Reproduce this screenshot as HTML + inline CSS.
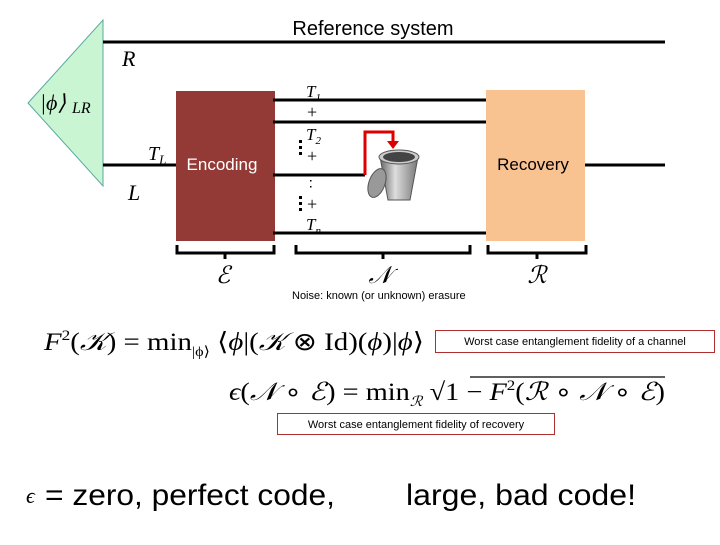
<!DOCTYPE html>
<html><head><style>
body{margin:0;background:#fff}
svg text{font-family:"Liberation Serif",serif}
</style></head><body>
<svg width="720" height="540" viewBox="0 0 720 540" xmlns="http://www.w3.org/2000/svg">
<text x="373" y="35" font-size="20" text-anchor="middle" style="font-family:'Liberation Sans',sans-serif">Reference system</text>
<polygon points="103,20 103,186 28,103" fill="#c9f5d3" stroke="#5aa9a0" stroke-width="1"/>
<text x="40" y="110" font-size="22" font-style="italic">|ϕ⟩</text>
<text x="72" y="113" font-size="16" font-style="italic">LR</text>
<line x1="103" y1="42" x2="665" y2="42" stroke="#000" stroke-width="3"/>
<line x1="103" y1="165" x2="176" y2="165" stroke="#000" stroke-width="3"/>
<text x="122" y="66" font-size="22" font-style="italic">R</text>
<text x="128" y="200" font-size="22" font-style="italic">L</text>
<text x="148" y="160" font-size="20" font-style="italic">T<tspan font-size="13" dy="4">L</tspan></text>
<rect x="176" y="91" width="99" height="150" fill="#933a36"/>
<text x="222" y="170" font-size="17" fill="#fff" text-anchor="middle" style="font-family:'Liberation Sans',sans-serif">Encoding</text>
<rect x="486" y="90" width="99" height="151" fill="#f8c291"/>
<text x="533" y="170" font-size="17" fill="#000" text-anchor="middle" style="font-family:'Liberation Sans',sans-serif">Recovery</text>
<line x1="585" y1="165" x2="665" y2="165" stroke="#000" stroke-width="3"/>
<g stroke="#000" stroke-width="3">
<line x1="273" y1="100" x2="486" y2="100"/>
<line x1="273" y1="122" x2="486" y2="122"/>
<line x1="273" y1="175" x2="365" y2="175"/>
<line x1="273" y1="233" x2="486" y2="233"/>
</g>
<g font-size="17" font-style="italic">
<text x="306" y="97">T<tspan font-size="11" dy="4">1</tspan></text>
<text x="306" y="140">T<tspan font-size="11" dy="4">2</tspan></text>
<text x="306" y="230">T<tspan font-size="11" dy="4">n</tspan></text>
</g>
<g font-size="18">
<text x="307" y="118">+</text>
<text x="307" y="162">+</text>
<text x="307" y="210">+</text>
</g>
<g fill="#000">
<rect x="299" y="140" width="3" height="3"/><rect x="299" y="146" width="3" height="3"/><rect x="299" y="152" width="3" height="3"/>
<rect x="299" y="196" width="3" height="3"/><rect x="299" y="202" width="3" height="3"/><rect x="299" y="208" width="3" height="3"/>
<rect x="310" y="174" width="1.5" height="1.5"/><rect x="310" y="180" width="1.5" height="1.5"/><rect x="310" y="186" width="1.5" height="1.5"/>
</g>
<path d="M365,175 V132 H393 V142" fill="none" stroke="#d00" stroke-width="3"/>
<polygon points="387,141 399,141 393,149" fill="#d00"/>
<defs><linearGradient id="g" x1="0" x2="1"><stop offset="0" stop-color="#666"/><stop offset="0.4" stop-color="#ddd"/><stop offset="1" stop-color="#777"/></linearGradient></defs>
<path d="M380,157 L388,200 L410,200 L418,157 Z" fill="url(#g)" stroke="#555"/>
<ellipse cx="399" cy="157" rx="20" ry="7" fill="#ccc" stroke="#555"/>
<ellipse cx="399" cy="157" rx="16" ry="5" fill="#444"/>
<ellipse cx="377" cy="183" rx="8" ry="15" fill="#999" stroke="#555" transform="rotate(20 377 183)"/>
<g stroke="#000" stroke-width="3" fill="none">
<path d="M177,245 V253 H274 V245 M225,253 V259"/>
<path d="M296,245 V253 H470 V245 M383,253 V259"/>
<path d="M488,245 V253 H586 V245 M537,253 V259"/>
</g>
<g font-size="24" font-style="italic" text-anchor="middle">
<text x="223" y="283">ℰ</text><text x="380" y="283">𝒩</text><text x="537" y="283">ℛ</text>
</g>
<text x="292" y="299" font-size="11" style="font-family:'Liberation Sans',sans-serif">Noise: known (or unknown) erasure</text>
<text x="44" y="350" font-size="25" textLength="380" lengthAdjust="spacingAndGlyphs"><tspan font-style="italic">F</tspan><tspan font-size="15" dy="-10">2</tspan><tspan dy="10">(</tspan><tspan font-style="italic">𝒦</tspan>) = min<tspan font-size="14" dy="6">|ϕ⟩</tspan><tspan dy="-6"> ⟨</tspan><tspan font-style="italic">ϕ</tspan>|(<tspan font-style="italic">𝒦</tspan> ⊗ Id)(<tspan font-style="italic">ϕ</tspan>)|<tspan font-style="italic">ϕ</tspan>⟩</text>
<rect x="435.5" y="330.5" width="279" height="22" fill="none" stroke="#b03030"/>
<text x="575" y="345" font-size="11" text-anchor="middle" style="font-family:'Liberation Sans',sans-serif">Worst case entanglement fidelity of a channel</text>
<text x="229" y="400" font-size="25" textLength="436" lengthAdjust="spacingAndGlyphs"><tspan font-style="italic">ϵ</tspan>(<tspan font-style="italic">𝒩</tspan> ∘ <tspan font-style="italic">ℰ</tspan>) = min<tspan font-size="14" dy="6" font-style="italic">ℛ</tspan><tspan dy="-6"> √</tspan>1 − <tspan font-style="italic">F</tspan><tspan font-size="15" dy="-10">2</tspan><tspan dy="10">(</tspan><tspan font-style="italic">ℛ</tspan> ∘ <tspan font-style="italic">𝒩</tspan> ∘ <tspan font-style="italic">ℰ</tspan>)</text>
<line x1="470" y1="377" x2="665" y2="377" stroke="#000" stroke-width="1.2"/>
<rect x="277.5" y="413.5" width="277" height="21" fill="none" stroke="#b03030"/>
<text x="416" y="428" font-size="11" text-anchor="middle" style="font-family:'Liberation Sans',sans-serif">Worst case entanglement fidelity of recovery</text>
<text x="26" y="503" font-size="22" font-style="italic">ϵ</text>
<text x="45" y="505" font-size="30" textLength="290" lengthAdjust="spacingAndGlyphs" style="font-family:'Liberation Sans',sans-serif">= zero, perfect code,</text>
<text x="406" y="505" font-size="30" textLength="230" lengthAdjust="spacingAndGlyphs" style="font-family:'Liberation Sans',sans-serif">large, bad code!</text>
</svg>
</body></html>
